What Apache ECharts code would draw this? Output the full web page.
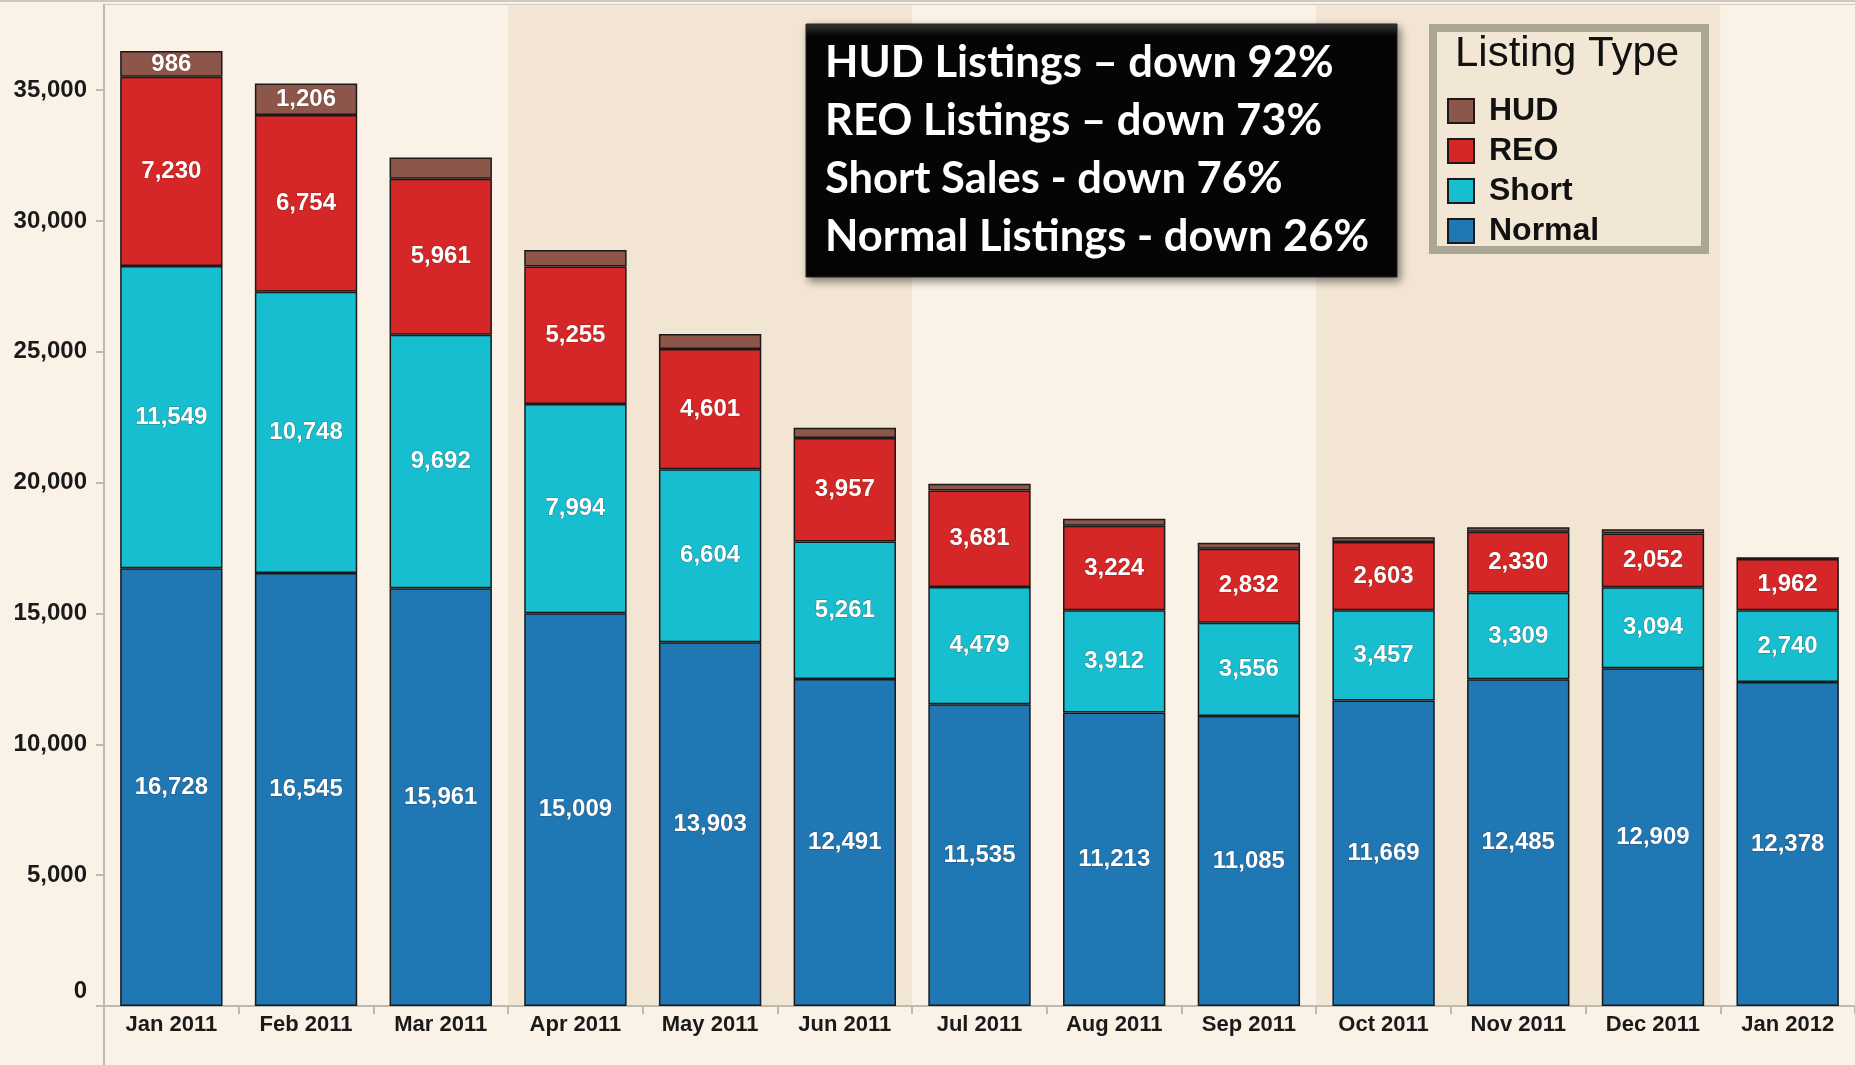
<!DOCTYPE html>
<html>
<head>
<meta charset="utf-8">
<script src="https://cdn.jsdelivr.net/npm/echarts@6/dist/echarts.min.js"></script>
<style>
  html, body { margin: 0; padding: 0; background: #fbf2e7; }
  #chart { width: 1855px; height: 1065px; }
</style>
</head>
<body>
<div id="chart"></div>
<script>
  // listings per month, by type
  var months = ['Jan 2011', 'Feb 2011', 'Mar 2011', 'Apr 2011', 'May 2011', 'Jun 2011', 'Jul 2011',
    'Aug 2011', 'Sep 2011', 'Oct 2011', 'Nov 2011', 'Dec 2011', 'Jan 2012']
  var normal = [16728, 16545, 15961, 15009, 13903, 12491, 11535, 11213, 11085, 11669, 12485, 12909, 12378]
  var shortSales = [11549, 10748, 9692, 7994, 6604, 5261, 4479, 3912, 3556, 3457, 3309, 3094, 2740]
  var reo = [7230, 6754, 5961, 5255, 4601, 3957, 3681, 3224, 2832, 2603, 2330, 2052, 1962]
  // HUD values past Feb are not printed
  var hud = [986, 1206, 810, 630, 570, 390, 260, 270, 225, 180, 170, 165, 70]
  var legendNames = ['HUD', 'REO', 'Short', 'Normal']
  var yMax = 38250
  var yInterval = 5000
  var notes = [
    'HUD Listings \u2013 down 92%',
    'REO Listings \u2013 down 73%',
    'Short Sales - down 76%',
    'Normal Listings - down 26%'
  ]

  var sans = "'Liberation Sans', Arial, sans-serif"
  var narrow = "'Liberation Sans Narrow', 'Liberation Sans', Arial, sans-serif"

  function commas(v) {
    return String(v).replace(/\B(?=(\d{3})+(?!\d))/g, ',')
  }

  function makeSeries(name, data, color) {
    return {
      name: name,
      type: 'bar',
      stack: 'total',
      barWidth: '76%',
      data: data,
      itemStyle: {
        color: color,
        borderColor: '#1a1a1a',
        borderWidth: 1.5
      },
      label: {
        show: true,
        position: 'inside',
        color: '#fff',
        fontFamily: sans,
        fontWeight: 'bold',
        fontSize: 24,
        textBorderColor: 'rgba(60,20,0,0.35)',
        textBorderWidth: 1,
        formatter: function (p) {
          return p.value >= 900 ? commas(p.value) : ''
        }
      }
    }
  }

  var chart = echarts.init(document.getElementById('chart'))
  chart.setOption({
    backgroundColor: '#fbf2e7',
    animation: false,
    grid: {
      left: 104,
      top: 5,
      right: -5,
      bottom: 59,
      show: true,
      borderColor: '#c4bfb7',
      borderWidth: 1.5
    },
    legend: {
      data: legendNames,
      orient: 'vertical',
      left: 1447,
      top: 95,
      padding: 0,
      icon: 'rect',
      itemWidth: 26,
      itemHeight: 24,
      itemGap: 8,
      z: 10,
      textStyle: {
        color: '#111',
        fontFamily: sans,
        fontWeight: 'bold',
        fontSize: 32,
        padding: [0, 0, 0, 10]
      }
    },
    xAxis: {
      type: 'category',
      data: months,
      axisLine: { lineStyle: { color: '#bdb8b0', width: 2 } },
      axisTick: { show: true, interval: 0, length: 8, lineStyle: { color: '#bdb8b0', width: 2 } },
      axisLabel: {
        interval: 0,
        margin: 8,
        color: '#1a1a1a',
        fontFamily: narrow,
        fontWeight: 'bold',
        fontSize: 22
      },
      splitArea: {
        show: true,
        interval: 2,
        areaStyle: { color: ['#fbf2e7', '#f2e5d3'] }
      }
    },
    yAxis: {
      type: 'value',
      min: 0,
      max: yMax,
      interval: yInterval,
      splitLine: { show: false },
      axisLine: { show: true, lineStyle: { color: '#bdb8b0', width: 2 } },
      axisTick: { show: true, length: 8, lineStyle: { color: '#bdb8b0', width: 2 } },
      axisLabel: {
        showMaxLabel: false,
        margin: 17,
        color: '#1a1a1a',
        fontFamily: sans,
        fontWeight: 'bold',
        fontSize: 24,
        formatter: function (v) {
          if (v % yInterval !== 0) return ''
          return v === 0 ? '{z|0}' : commas(v)
        },
        rich: {
          z: {
            color: '#1a1a1a',
            fontFamily: sans,
            fontWeight: 'bold',
            fontSize: 24,
            padding: [0, 0, 30, 0]
          }
        }
      }
    },
    series: [
      makeSeries('Normal', normal, '#1f77b4'),
      makeSeries('Short', shortSales, '#17becf'),
      makeSeries('REO', reo, '#d62728'),
      makeSeries('HUD', hud, '#8c564b')
    ],
    graphic: [
      {
        type: 'rect',
        z: 5,
        shape: { x: 0, y: 0, width: 1855, height: 2 },
        style: { fill: '#cfc8be' }
      },
      {
        type: 'line',
        z: 5,
        shape: { x1: 104, y1: 1006, x2: 104, y2: 1065 },
        style: { stroke: '#bdb8b0', lineWidth: 2 }
      },
      {
        type: 'rect',
        z: 6,
        shape: { x: 806, y: 24, width: 591, height: 253 },
        style: {
          fill: new echarts.graphic.LinearGradient(0, 0, 0, 1, [
            { offset: 0, color: '#3a3a3a' },
            { offset: 0.05, color: '#050505' },
            { offset: 1, color: '#050505' }
          ]),
          stroke: '#222',
          lineWidth: 1,
          shadowBlur: 8,
          shadowOffsetX: 3,
          shadowOffsetY: 4,
          shadowColor: 'rgba(0,0,0,0.45)'
        }
      },
      {
        type: 'text',
        z: 7,
        x: 825,
        y: 34,
        style: {
          text: notes.join('\n'),
          fill: '#fff',
          font: "bold 43.5px Lato, 'Open Sans', sans-serif",
          lineHeight: 58,
          verticalAlign: 'top'
        }
      },
      {
        type: 'rect',
        z: 6,
        shape: { x: 1433, y: 28, width: 272, height: 222 },
        style: { fill: '#f2e6d4', stroke: '#aba797', lineWidth: 8 }
      },
      {
        type: 'text',
        z: 7,
        x: 1455,
        y: 54,
        style: {
          text: 'Listing Type',
          fill: '#111',
          font: "42px 'Liberation Sans', Arial, sans-serif",
          verticalAlign: 'middle'
        }
      }
    ]
  })
</script>
</body>
</html>
